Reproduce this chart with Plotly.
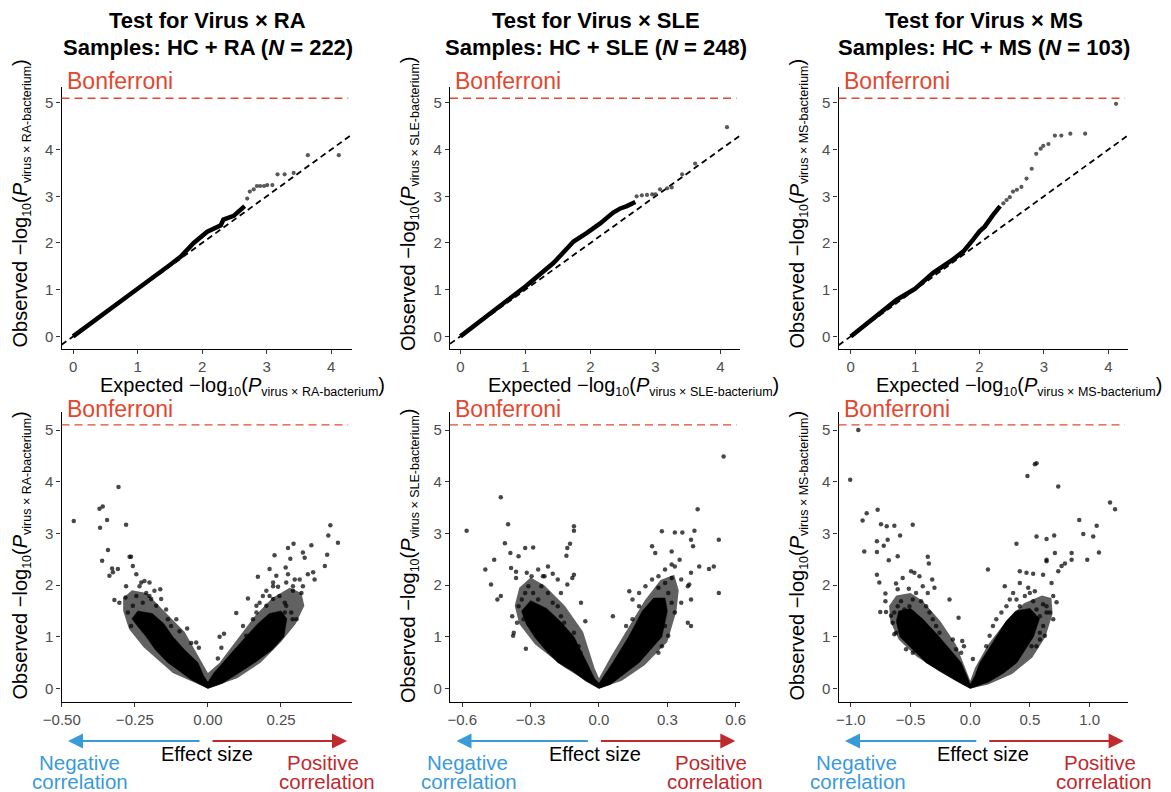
import plotly.graph_objects as go

W, H = 1171, 792
FONT = "Liberation Sans, Arial, Helvetica, sans-serif"

# ---------------- data ----------------
diseases = ["RA", "SLE", "MS"]
sample_n = [222, 248, 103]
bonferroni = 5.1

# QQ plots: dense part (drawn as thick trace) and sparse tail points
qq1_dense_exp = [0.0, 0.5, 1.0, 1.5, 1.67, 1.87, 2.08, 2.29, 2.33, 2.49, 2.6, 2.66]
qq1_dense_obs = [0.0, 0.5, 1.02, 1.53, 1.71, 2.0, 2.24, 2.38, 2.5, 2.58, 2.7, 2.79]
qq1_tail_exp = [2.70, 2.74, 2.80, 2.85, 2.90, 2.96, 3.01, 3.09, 3.17, 3.28, 3.42, 3.64, 4.12]
qq1_tail_obs = [2.95, 3.10, 3.15, 3.22, 3.22, 3.22, 3.24, 3.24, 3.47, 3.47, 3.50, 3.88, 3.88]

qq2_dense_exp = [0.0, 0.5, 1.0, 1.43, 1.74, 1.94, 2.15, 2.35, 2.46, 2.56, 2.69]
qq2_dense_obs = [0.0, 0.53, 1.07, 1.57, 2.03, 2.21, 2.42, 2.65, 2.74, 2.79, 2.88]
qq2_tail_exp = [2.71, 2.79, 2.87, 2.95, 3.0, 3.07, 3.18, 3.25, 3.41, 3.61, 4.10]
qq2_tail_obs = [3.0, 3.02, 3.03, 3.04, 3.04, 3.15, 3.17, 3.19, 3.47, 3.70, 4.48]

qq3_dense_exp = [0.0, 0.5, 0.71, 1.0, 1.28, 1.59, 1.75, 1.90, 2.0, 2.08, 2.13, 2.21, 2.32]
qq3_dense_obs = [0.0, 0.53, 0.78, 1.02, 1.36, 1.65, 1.82, 2.07, 2.25, 2.35, 2.46, 2.60, 2.79]
qq3_tail_exp = [2.37, 2.42, 2.47, 2.52, 2.58, 2.65, 2.73, 2.81, 2.88, 2.95, 2.99, 3.07, 3.17, 3.27, 3.41, 3.64, 4.12]
qq3_tail_obs = [2.85, 2.92, 2.98, 3.10, 3.14, 3.20, 3.38, 3.59, 3.91, 4.02, 4.08, 4.12, 4.30, 4.30, 4.34, 4.34, 4.98]

# Volcano plots: dense core region, sparser halo region, individual points
v1_core_x = [0, -0.06, -0.10, -0.137, -0.18, -0.211, -0.24, -0.26, -0.24, -0.19, -0.15, -0.12, -0.08, -0.034,
             -0.015, 0.0, 0.02, 0.05, 0.09, 0.13, 0.17, 0.21, 0.25, 0.27, 0.26, 0.22, 0.16, 0.10, 0.05, 0]
v1_core_y = [0, 0.18, 0.35, 0.5, 0.75, 1.0, 1.2, 1.35, 1.5, 1.45, 1.25, 1.0, 0.75, 0.5,
             0.25, 0.12, 0.3, 0.5, 0.75, 1.0, 1.25, 1.45, 1.5, 1.35, 1.0, 0.75, 0.5, 0.28, 0.1, 0]
v1_halo_x = [0, -0.12, -0.22, -0.27, -0.29, -0.29, -0.26, -0.21, -0.15, -0.08, -0.03, 0.0,
             0.04, 0.10, 0.16, 0.22, 0.28, 0.32, 0.33, 0.30, 0.25, 0.18, 0.10, 0]
v1_halo_y = [0, 0.3, 0.8, 1.15, 1.5, 1.75, 1.9, 1.85, 1.5, 1.1, 0.6, 0.3,
             0.5, 0.95, 1.4, 1.75, 1.95, 1.85, 1.6, 1.25, 0.9, 0.5, 0.2, 0]
v1_pts_x = [-0.459, -0.306, -0.371, -0.36, -0.345, -0.369, -0.28, -0.342, -0.362, -0.268, -0.263, -0.325,
            -0.328, -0.337, -0.308, -0.320, -0.303, -0.28, -0.282, -0.245, -0.257, -0.228, -0.2, -0.163,
            -0.2, -0.071, -0.04, -0.031, -0.057, 0.04, 0.055, 0.046, 0.034, 0.097,
            0.228, 0.266, 0.234, 0.274, 0.293, 0.282, 0.325, 0.331, 0.354, 0.419, 0.412, 0.445, 0.408,
            0.40, 0.36, 0.365, 0.342, 0.297, 0.268, 0.223, 0.24, 0.171, 0.211, 0.263, 0.291, 0.325,
            0.32, 0.211, 0.137, 0.166, 0.251, 0.29, 0.263]
v1_pts_y = [3.24, 3.90, 3.48, 3.52, 3.26, 3.11, 3.17, 2.68, 2.47, 2.55, 2.55, 2.25,
            2.32, 2.18, 2.31, 1.71, 1.66, 1.98, 1.76, 2.21, 2.37, 2.05, 2.05, 1.92,
            1.79, 1.16, 0.89, 0.79, 0.88, 1.0, 1.06, 0.79, 0.58, 1.46,
            2.58, 2.34, 2.18, 2.72, 2.80, 2.51, 2.63, 2.53, 2.77, 3.16, 2.96, 2.82, 2.59,
            2.37, 2.25, 2.11, 2.21, 2.11, 2.05, 1.98, 1.97, 2.16, 2.31, 1.66, 1.89, 1.98,
            1.85, 1.79, 1.74, 1.6, 1.08, 1.34, 1.47]
v1_edge_x = [-0.274, -0.257, -0.245, -0.234, -0.223, -0.211, -0.194, -0.183, -0.245, -0.263, -0.177, -0.160,
             -0.143, -0.137, -0.126, -0.108, -0.097, -0.234, -0.217,
             0.154, 0.166, 0.177, 0.188, 0.2, 0.223, 0.245, 0.268, 0.285, 0.303, 0.228, 0.211, 0.251, 0.12,
             0.131, 0.291, 0.314, 0.274, 0.223, 0.2]
v1_edge_y = [1.47, 1.60, 1.79, 1.40, 1.66, 1.85, 1.73, 1.89, 1.31, 1.21, 1.60, 1.73,
             1.53, 1.34, 1.21, 1.34, 1.11, 1.98, 2.08,
             1.34, 1.47, 1.66, 1.79, 1.60, 1.73, 1.79, 1.60, 1.47, 1.34, 1.40, 1.21, 1.21, 1.21,
             1.02, 1.98, 2.11, 2.21, 2.05, 1.89]

v2_core_x = [0, -0.06, -0.12, -0.18, -0.23, -0.28, -0.32, -0.34, -0.30, -0.23, -0.17, -0.11, -0.053, -0.02, 0.0,
             0.03, 0.06, 0.13, 0.19, 0.24, 0.29, 0.30, 0.276, 0.176, 0.10, 0.05, 0]
v2_core_y = [0, 0.15, 0.35, 0.5, 0.72, 0.98, 1.25, 1.5, 1.7, 1.55, 1.3, 1.0, 0.5, 0.2, 0.1,
             0.3, 0.5, 1.0, 1.5, 1.75, 1.75, 1.5, 1.0, 0.5, 0.25, 0.08, 0]
v2_halo_x = [0, -0.15, -0.28, -0.35, -0.37, -0.35, -0.30, -0.24, -0.15, -0.07, -0.02, 0.0,
             0.05, 0.13, 0.20, 0.27, 0.33, 0.35, 0.34, 0.30, 0.20, 0.10, 0]
v2_halo_y = [0, 0.4, 0.85, 1.25, 1.6, 1.95, 2.15, 2.0, 1.6, 1.1, 0.4, 0.2,
             0.6, 1.2, 1.7, 2.1, 2.2, 1.9, 1.5, 0.9, 0.45, 0.15, 0]
v2_pts_x = [-0.581, -0.431, -0.399, -0.46, -0.499, -0.474, -0.446, -0.431, -0.381, -0.377, -0.413, -0.389,
            -0.353, -0.386, -0.364, -0.324, -0.289, -0.364, -0.317, -0.321, -0.11, -0.11, -0.127, -0.139,
            -0.143, -0.11, -0.117, -0.079, -0.06, -0.224, -0.203, -0.246, -0.181, -0.139, -0.167,
            0.547, 0.433, 0.276, 0.333, 0.366, 0.419, 0.526, 0.404, 0.413, 0.233, 0.247, 0.319, 0.354,
            0.44, 0.504, 0.483, 0.404, 0.319, 0.29, 0.39, 0.396, 0.526, 0.361, 0.404, 0.39, 0.404,
            0.133, 0.061, 0.176, 0.319, 0.261]
v2_pts_y = [3.05, 3.70, 3.18, 2.49, 2.30, 2.01, 1.72, 1.79, 1.40, 1.02, 2.81, 2.62,
            2.56, 2.33, 2.14, 2.72, 2.73, 2.26, 2.24, 0.77, 3.14, 3.05, 2.80, 2.72,
            2.57, 2.20, 2.14, 1.66, 1.30, 2.36, 2.22, 2.17, 2.11, 2.01, 1.85,
            4.49, 3.47, 3.04, 3.02, 3.02, 3.05, 2.88, 2.88, 2.75, 2.75, 2.62, 2.65, 2.49,
            2.36, 2.36, 2.31, 2.24, 2.40, 2.30, 1.98, 2.01, 1.85, 1.66, 1.72, 1.27, 1.21,
            1.88, 1.40, 1.59, 2.14, 1.95]
v2_edge_x = [-0.353, -0.339, -0.324, -0.31, -0.289, -0.267, -0.253, -0.239, -0.224, -0.203, -0.181, -0.167,
             -0.153, -0.139, -0.331, -0.36, -0.374, -0.296, -0.267, -0.11, -0.089, -0.081,
             0.147, 0.176, 0.204, 0.233, 0.261, 0.29, 0.304, 0.319, 0.333, 0.233, 0.204, 0.147, 0.119,
             0.29, 0.304, 0.276, 0.261, 0.333, 0.361]
v2_edge_y = [1.59, 1.72, 1.85, 1.98, 1.85, 1.72, 1.98, 2.17, 1.85, 1.66, 1.59, 1.40,
             1.27, 1.08, 1.34, 1.27, 1.08, 2.17, 2.30, 1.08, 0.82, 0.69,
             1.72, 1.85, 1.98, 2.11, 2.17, 2.04, 1.85, 1.66, 1.47, 1.59, 1.47, 1.34, 1.21,
             1.21, 1.02, 0.82, 0.69, 2.36, 2.11]

v3_core_x = [0, -0.12, -0.25, -0.37, -0.48, -0.59, -0.62, -0.60, -0.50, -0.40, -0.26, -0.15, -0.076, -0.03, 0.0,
             0.04, 0.08, 0.15, 0.22, 0.30, 0.38, 0.50, 0.58, 0.53, 0.46, 0.39, 0.28, 0.15, 0]
v3_core_y = [0, 0.15, 0.33, 0.5, 0.75, 1.0, 1.3, 1.5, 1.55, 1.35, 1.0, 0.7, 0.5, 0.25, 0.08,
             0.25, 0.5, 0.75, 1.0, 1.3, 1.5, 1.55, 1.35, 1.0, 0.75, 0.5, 0.3, 0.12, 0]
v3_halo_x = [0, -0.25, -0.45, -0.60, -0.67, -0.68, -0.62, -0.50, -0.40, -0.25, -0.12, -0.03, 0.0,
             0.04, 0.15, 0.30, 0.45, 0.60, 0.68, 0.69, 0.63, 0.52, 0.35, 0.15, 0]
v3_halo_y = [0, 0.32, 0.62, 0.95, 1.3, 1.6, 1.8, 1.85, 1.7, 1.3, 0.85, 0.3, 0.15,
             0.4, 0.85, 1.3, 1.65, 1.8, 1.75, 1.45, 1.0, 0.6, 0.28, 0.08, 0]
v3_pts_x = [-0.938, -1.006, -0.902, -0.868, -0.888, -0.776, -0.782, -0.782, -0.748, -0.70, -0.725, -0.692,
            -0.636, -0.683, -0.588, -0.608, -0.482, -0.782, -0.762, -0.711, -0.711, -0.754, -0.706, -0.664,
            -0.622, -0.608, -0.566, -0.496, -0.468, -0.426, -0.356, -0.347, -0.319, -0.636, -0.515, -0.30,
            -0.098, -0.174, -0.053, -0.067,
            0.148, 0.555, 0.541, 0.479, 0.737, 1.171, 1.213, 0.913, 1.059, 0.947, 1.03, 0.98, 1.078,
            0.703, 0.639, 0.555, 0.387, 0.709, 0.849, 0.849, 0.639, 0.639, 0.737, 0.765, 0.793, 0.415,
            0.471, 0.527, 0.61, 0.681, 0.289, 0.415, 0.485, 0.541, 0.695, 0.695, 0.723, 0.61, 0.639,
            0.513, 0.583, 0.471, 0.022]
v3_pts_y = [5.0, 4.04, 3.25, 3.39, 2.65, 3.46, 2.85, 2.64, 3.18, 3.14, 2.76, 2.88,
            3.15, 2.48, 2.96, 2.56, 3.17, 2.20, 2.05, 1.84, 1.69, 1.48, 1.48, 1.41,
            2.03, 1.92, 2.14, 2.27, 2.24, 2.17, 2.55, 2.42, 2.11, 1.05, 1.93, 1.95,
            1.37, 1.72, 0.82, 0.92,
            2.30, 4.36, 4.34, 4.11, 3.91, 3.60, 3.47, 3.26, 3.15, 2.99, 2.94, 2.49, 2.63,
            2.96, 2.89, 2.94, 2.80, 2.62, 2.62, 2.49, 2.46, 2.49, 2.27, 2.37, 2.42, 2.27,
            2.24, 2.22, 2.20, 2.04, 1.98, 2.04, 1.95, 1.88, 1.79, 1.34, 1.67, 1.63, 1.47,
            0.82, 0.95, 1.34, 0.57]
v3_edge_x = [-0.636, -0.608, -0.58, -0.552, -0.51, -0.482, -0.454, -0.412, -0.37, -0.342, -0.314, -0.286,
             -0.258, -0.398, -0.356, -0.65, -0.622, -0.538, -0.482, -0.146, -0.118, -0.076,
             0.218, 0.261, 0.303, 0.331, 0.359, 0.387, 0.415, 0.457, 0.499, 0.527, 0.555, 0.583, 0.611,
             0.625, 0.19, 0.162, 0.134, 0.527, 0.583, 0.555, 0.639, 0.667]
v3_edge_y = [1.47, 1.59, 1.69, 1.53, 1.59, 1.72, 1.85, 1.69, 1.59, 1.47, 1.34, 1.21,
             1.08, 1.98, 1.85, 1.27, 1.08, 0.76, 0.69, 0.95, 0.76, 0.69,
             1.34, 1.47, 1.59, 1.72, 1.85, 1.72, 1.59, 1.79, 1.85, 1.69, 1.53, 1.40, 1.21,
             1.02, 1.21, 1.02, 0.82, 1.34, 1.08, 0.82, 1.59, 1.47]

qq_ticks = [0, 1, 2, 3, 4]
y_ticks = [0, 1, 2, 3, 4, 5]
vol_ticks = [[-0.5, -0.25, 0, 0.25], [-0.6, -0.3, 0, 0.3, 0.6], [-1.0, -0.5, 0, 0.5, 1.0]]
vol_tickfmt = [".2f", ".1f", ".1f"]

# ---------------- layout geometry (pixels) ----------------
col_px = [(61.5, 351.7), (450.0, 740.0), (838.5, 1128.3)]
top_row_px = (87.0, 349.0)
bot_row_px = (411.7, 701.7)
qq_xrange = [[-0.18, 4.32], [-0.16, 4.30], [-0.19, 4.31]]
vol_xrange = [[-0.501, 0.492], [-0.654, 0.619], [-1.104, 1.324]]
top_yrange = [-0.27, 5.34]
bot_yrange = [-0.255, 5.355]


def px(x):
    return x / W


def py(y):
    return 1 - y / H


def ax_id(n):
    s = "" if n == 1 else str(n)
    return f"x{s}", f"y{s}", f"xaxis{s}", f"yaxis{s}"


BLUE = "#3A9AD9"
RED = "#BF2A2F"
BONF = "#E2482F"
TICK_COL = "#4D4D4D"

fig = go.Figure()

qq_dense = [(qq1_dense_exp, qq1_dense_obs), (qq2_dense_exp, qq2_dense_obs), (qq3_dense_exp, qq3_dense_obs)]
qq_tail = [(qq1_tail_exp, qq1_tail_obs), (qq2_tail_exp, qq2_tail_obs), (qq3_tail_exp, qq3_tail_obs)]
vol_core = [(v1_core_x, v1_core_y), (v2_core_x, v2_core_y), (v3_core_x, v3_core_y)]
vol_halo = [(v1_halo_x, v1_halo_y), (v2_halo_x, v2_halo_y), (v3_halo_x, v3_halo_y)]
vol_pts = [(v1_pts_x, v1_pts_y), (v2_pts_x, v2_pts_y), (v3_pts_x, v3_pts_y)]
vol_edge = [(v1_edge_x, v1_edge_y), (v2_edge_x, v2_edge_y), (v3_edge_x, v3_edge_y)]

axis_common = dict(showline=True, linecolor="black", linewidth=1.2, ticks="outside", ticklen=4,
                   tickcolor="#333333", tickwidth=1, showgrid=False, zeroline=False, automargin=False,
                   tickfont=dict(family=FONT, size=15, color=TICK_COL), mirror=False)

layout_axes = {}
for i in range(3):
    tx, ty, txa, tya = ax_id(i + 1)
    bx, by, bxa, bya = ax_id(i + 4)
    layout_axes[txa] = dict(axis_common, domain=[px(col_px[i][0]), px(col_px[i][1])],
                            range=qq_xrange[i], anchor=ty, tickvals=qq_ticks)
    layout_axes[tya] = dict(axis_common, domain=[py(top_row_px[1]), py(top_row_px[0])],
                            range=top_yrange, anchor=tx, tickvals=y_ticks)
    layout_axes[bxa] = dict(axis_common, domain=[px(col_px[i][0]), px(col_px[i][1])],
                            range=vol_xrange[i], anchor=by, tickvals=vol_ticks[i],
                            tickformat=vol_tickfmt[i])
    layout_axes[bya] = dict(axis_common, domain=[py(bot_row_px[1]), py(bot_row_px[0])],
                            range=bot_yrange, anchor=bx, tickvals=y_ticks)

    lo = max(qq_xrange[i][0], top_yrange[0])
    hi = qq_xrange[i][1]
    fig.add_trace(go.Scatter(x=[lo, hi], y=[lo, hi], mode="lines", xaxis=tx, yaxis=ty,
                             line=dict(color="black", width=1.8, dash="6px,4px"), showlegend=False,
                             hoverinfo="skip"))
    fig.add_trace(go.Scatter(x=qq_dense[i][0], y=qq_dense[i][1], mode="lines", xaxis=tx, yaxis=ty,
                             line=dict(color="black", width=4.5), showlegend=False))
    fig.add_trace(go.Scatter(x=qq_tail[i][0], y=qq_tail[i][1], mode="markers", xaxis=tx, yaxis=ty,
                             marker=dict(color="rgba(60,60,60,0.85)", size=4.2), showlegend=False))

    fig.add_trace(go.Scatter(x=vol_halo[i][0], y=vol_halo[i][1], mode="lines", fill="toself",
                             fillcolor="rgba(0,0,0,0.62)", line=dict(width=0), xaxis=bx, yaxis=by,
                             showlegend=False, hoverinfo="skip"))
    fig.add_trace(go.Scatter(x=vol_core[i][0], y=vol_core[i][1], mode="lines", fill="toself",
                             fillcolor="black", line=dict(width=0.5, color="black"), xaxis=bx, yaxis=by,
                             showlegend=False, hoverinfo="skip"))
    fig.add_trace(go.Scatter(x=vol_edge[i][0], y=vol_edge[i][1], mode="markers", xaxis=bx, yaxis=by,
                             marker=dict(color="rgba(0,0,0,0.7)", size=4.5), showlegend=False))
    fig.add_trace(go.Scatter(x=vol_pts[i][0], y=vol_pts[i][1], mode="markers", xaxis=bx, yaxis=by,
                             marker=dict(color="rgba(0,0,0,0.72)", size=4.5), showlegend=False))

    for (xa, ya) in [(tx, ty), (bx, by)]:
        fig.add_shape(type="line", xref=f"{xa} domain", yref=ya, x0=0, x1=0.988, y0=bonferroni,
                      y1=bonferroni, line=dict(color=BONF, width=1.4, dash="8px,5px"))

annotations = []
sub_style = "font-size:12.5px"
for i, d in enumerate(diseases):
    left, right = col_px[i]
    cx = (left + right) / 2
    annotations.append(dict(text=f"<b>Test for Virus × {d}</b>", x=px(cx + 1), y=py(21),
                            xref="paper", yref="paper", showarrow=False, xanchor="center", yanchor="middle",
                            font=dict(family=FONT, size=22, color="black")))
    annotations.append(dict(text=f"<b>Samples: HC + {d} (<i>N</i> = {sample_n[i]})</b>", x=px(cx + 1),
                            y=py(47), xref="paper", yref="paper", showarrow=False, xanchor="center",
                            yanchor="middle", font=dict(family=FONT, size=22, color="black")))
    ylab = (f"Observed −log<sub><span style='{sub_style}'>10</span></sub>(<i>P</i>"
            f"<sub><span style='{sub_style}'>virus × {d}-bacterium</span></sub>)")
    xlab = (f"Expected −log<sub><span style='{sub_style}'>10</span></sub>(<i>P</i>"
            f"<sub><span style='{sub_style}'>virus × {d}-bacterium</span></sub>)")
    for yc in (204, 556):
        annotations.append(dict(text=ylab, x=px(left - 41), y=py(yc), xref="paper", yref="paper",
                                showarrow=False, textangle=-90, xanchor="center", yanchor="middle",
                                font=dict(family=FONT, size=20, color="black")))
    annotations.append(dict(text=xlab, x=px(left + 36), y=py(386), xref="paper", yref="paper",
                            showarrow=False, xanchor="left", yanchor="middle",
                            font=dict(family=FONT, size=20, color="black")))
    for yc in (81, 409):
        annotations.append(dict(text="Bonferroni", x=px(left + 3), y=py(yc), xref="paper", yref="paper",
                                showarrow=False, xanchor="left", yanchor="middle",
                                font=dict(family=FONT, size=23, color=BONF)))
    annotations.append(dict(text="", x=px(left + 6.5), y=py(741), ax=(cx - 5.6) - (left + 6.5), ay=0,
                            xref="paper", yref="paper", axref="pixel", ayref="pixel", showarrow=True,
                            arrowhead=2, arrowsize=1.5, arrowwidth=2, arrowcolor=BLUE))
    annotations.append(dict(text="", x=px(right - 4.7), y=py(741), ax=(cx + 4.4) - (right - 4.7), ay=0,
                            xref="paper", yref="paper", axref="pixel", ayref="pixel", showarrow=True,
                            arrowhead=2, arrowsize=1.5, arrowwidth=2, arrowcolor=RED))
    annotations.append(dict(text="Effect size", x=px(cx), y=py(754), xref="paper", yref="paper",
                            showarrow=False, xanchor="center", yanchor="middle",
                            font=dict(family=FONT, size=20, color="black")))
    for txt, xc, yc, col in [("Negative", left + 17.5, 762, BLUE), ("correlation", left + 19, 781, BLUE),
                             ("Positive", right - 28.7, 762, RED), ("correlation", right - 24.7, 781, RED)]:
        annotations.append(dict(text=txt, x=px(xc), y=py(yc), xref="paper", yref="paper",
                                showarrow=False, xanchor="center", yanchor="middle",
                                font=dict(family=FONT, size=20.5, color=col)))

fig.update_layout(width=W, height=H, margin=dict(l=0, r=0, t=0, b=0, autoexpand=False),
                  plot_bgcolor="white", paper_bgcolor="white", showlegend=False,
                  annotations=annotations, font=dict(family=FONT), **layout_axes)

fig.write_html("out.html", config={"displayModeBar": False},
               post_script="document.body.style.margin='0px';")
